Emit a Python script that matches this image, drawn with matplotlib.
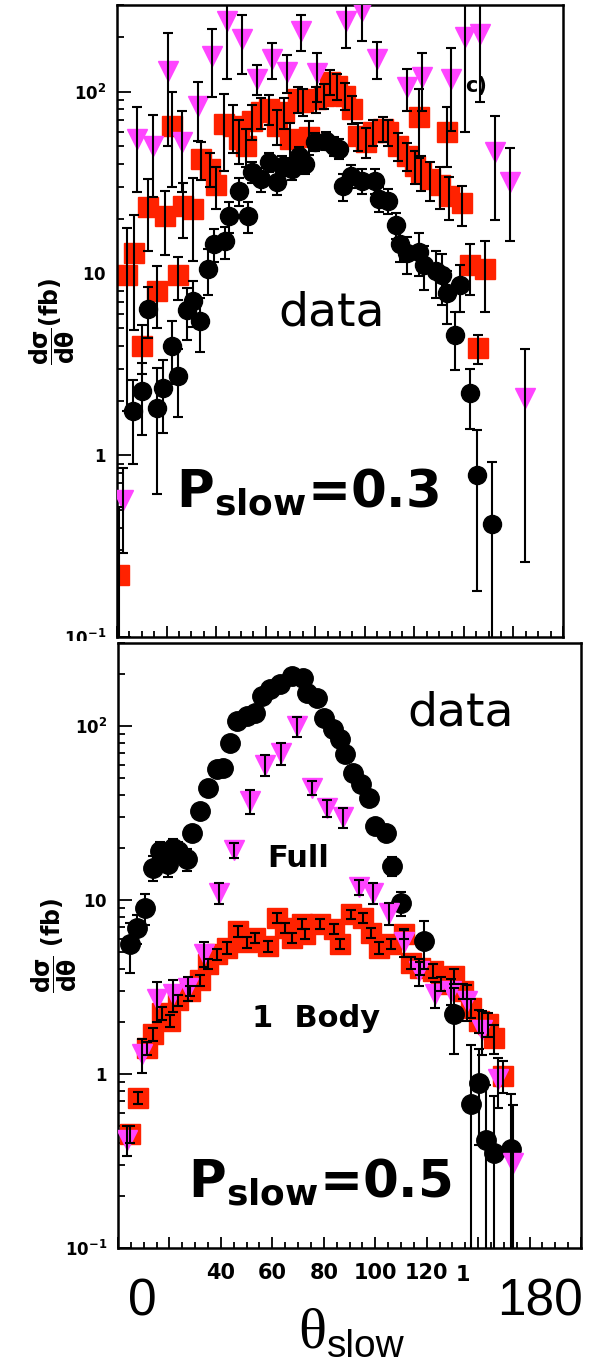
import matplotlib
matplotlib.use("Agg")
import matplotlib.pyplot as plt
from matplotlib.patches import Rectangle
from matplotlib.ticker import MultipleLocator, FixedLocator, LogLocator, NullFormatter

# ---- upper panel: P_slow = 0.3 ----
top_data_theta = [6.5, 10.1, 12.5, 16.1, 18.6, 22.2, 24.6, 28.2, 30.7, 33.5, 36.7, 39.1, 43.6, 45.2,
                  49.2, 52.9, 54.5, 58.1, 61.3, 64.6, 66.6, 70.6, 73.4, 75.9, 79.9, 84.3, 87.6, 89.6,
                  91.2, 94.4, 98.9, 104.1, 105.7, 109.4, 112.6, 114.2, 117.0, 121.9, 123.9, 128.7,
                  131.2, 133.2, 136.4, 138.4, 142.5, 145.3, 151.3]
top_data_val = [1.75, 2.25, 6.4, 1.81, 2.33, 3.97, 2.72, 6.3, 7.1, 5.5, 10.6, 14.6, 15.0, 20.8,
                28.6, 20.6, 36.3, 33.2, 41.2, 32.0, 39.2, 37.7, 44.5, 40.2, 53.1, 53.8, 50.5, 48.6,
                30.1, 34.5, 32.4, 32.4, 25.8, 25.2, 18.4, 14.6, 12.9, 13.2, 11.1, 10.3,
                9.75, 7.8, 4.56, 8.6, 2.19, 0.78, 0.42]
top_data_err = [0.85, 0.95, 2.0, 1.2, 1.0, 1.5, 1.1, 2.0, 2.0, 1.8, 3.0, 3.0, 3.0, 4.0,
                5.0, 4.0, 5.0, 5.0, 5.0, 5.0, 5.0, 5.0, 5.0, 5.0, 6.0, 6.0, 6.0, 6.0,
                5.0, 5.0, 5.0, 5.0, 4.0, 4.0, 3.0, 3.0, 3.0, 3.5, 3.0, 3.0,
                3.0, 2.5, 1.6, 2.5, 0.8, 0.6, 0.5]

top_one_theta = [0.8, 4.0, 6.9, 10.1, 12.5, 16.1, 19.4, 22.2, 24.6, 26.6, 30.7, 33.9, 37.5, 40.0,
                 43.2, 46.8, 49.2, 52.1, 54.5, 58.1, 61.3, 64.6, 67.4, 69.8, 73.0, 75.1, 77.5, 80.3,
                 83.5, 86.0, 88.8, 92.0, 94.8, 97.3, 100.5, 103.3, 107.3, 109.4, 113.4, 117.0,
                 120.3, 121.9, 122.7, 126.3, 130.3, 133.2, 134.0, 139.2, 142.5, 145.7, 148.5]
top_one_val = [0.22, 9.75, 12.9, 4.0, 23.3, 8.0, 20.6, 65.0, 9.75, 23.6, 22.7, 42.8, 37.8, 30.5,
               66.7, 65.0, 55.2, 50.5, 69.3, 77.6, 80.7, 65.0, 77.6, 55.2, 91.5, 88.1, 56.6, 91.5,
               95.1, 113.5, 107.9, 95.1, 80.7, 57.3, 53.1, 60.3, 62.6, 60.3, 50.5, 44.5,
               39.2, 73.0, 36.3, 33.2, 30.5, 60.3, 26.8, 24.3, 11.1, 3.87, 10.6]
top_one_err = [0.3, 8.0, 8.0, 1.2, 10.0, 3.0, 8.0, 35.0, 2.6, 8.0, 11.0, 10.0, 8.0, 8.0,
               30.0, 19.0, 15.0, 12.0, 15.0, 15.0, 15.0, 14.0, 15.0, 12.0, 15.0, 15.0, 12.0, 15.0,
               15.0, 18.0, 18.0, 16.0, 14.0, 10.0, 10.0, 10.0, 10.0, 10.0, 9.0, 8.0,
               8.0, 30.0, 8.0, 8.0, 8.0, 22.0, 7.0, 6.0, 3.5, 0.7, 4.5]

top_full_theta = [2.4, 8.1, 14.5, 20.6, 26.2, 32.7, 38.3, 44.4, 50.4, 56.5, 62.5, 68.6, 74.3,
                  80.7, 92.4, 98.9, 104.9, 117.0, 123.1, 134.8, 140.4, 146.5, 152.5, 158.6, 164.6]
top_full_val = [0.57, 55.2, 50.5, 130, 53.1, 83.8, 158, 245, 195, 118, 152, 129, 216,
                126, 245, 279, 152, 106, 121, 118, 200, 208, 46.8, 32.0, 2.06]
top_full_err = [0.28, 27, 24, 80, 25, 30, 64, 127, 70, 22, 34, 30, 48,
                38, 70, 90, 35, 28, 43, 57, 140, 120, 27, 17, 1.8]

# ---- lower panel: P_slow = 0.5 ----
bot_data_theta = [4.7, 7.4, 10.5, 13.6, 16.4, 19.5, 21.4, 23.4, 26.9, 28.8, 31.9, 35.1, 38.6, 40.9,
                  43.6, 46.4, 50.3, 53.4, 56.1, 59.2, 63.1, 67.8, 72.1, 73.6, 77.5, 79.9, 83.4,
                  86.5, 88.4, 91.5, 94.3, 97.4, 100.1, 104.0, 106.7, 109.9, 118.8, 130.5, 137.1,
                  140.2, 143.0, 146.1, 152.7]
bot_data_val = [5.6, 6.9, 9.0, 15.3, 19.1, 16.1, 19.9, 19.1, 17.2, 24.3, 32.4, 44.0, 56.6, 57.4,
                79.8, 107, 114, 119, 149, 163, 174, 194, 189, 155, 145, 111, 96,
                84, 69, 53.7, 46.4, 38.5, 26.6, 24.3, 15.7, 9.6, 5.8, 2.21, 0.67,
                0.89, 0.42, 0.35, 0.37]
bot_data_err = [1.8, 1.3, 1.8, 2.5, 2.5, 2.5, 2.5, 2.5, 2.5, 2.0, 2.0, 2.0, 2.5, 2.5,
                3.0, 3.0, 3.0, 3.0, 4.0, 4.0, 4.0, 4.0, 4.0, 4.0, 4.0, 3.0, 3.0,
                3.0, 3.0, 2.5, 2.5, 2.0, 2.0, 2.0, 2.0, 1.5, 1.8, 0.9, 0.8,
                0.5, 0.45, 0.4, 0.4]

bot_one_theta = [4.7, 7.8, 11.3, 13.6, 17.1, 20.3, 23.4, 28.0, 31.9, 35.1, 38.6, 42.5, 46.7, 50.3,
                 53.4, 58.4, 61.9, 65.1, 67.8, 71.7, 72.8, 78.7, 83.8, 86.5, 90.4, 95.1, 98.2,
                 101.3, 106.0, 111.0, 113.8, 117.6, 122.3, 125.4, 130.5, 134.0, 137.1, 140.2,
                 143.7, 146.1, 149.6]
bot_one_val = [0.45, 0.73, 1.41, 1.70, 2.24, 2.02, 2.66, 3.0, 3.47, 4.29, 4.9, 5.3, 6.6, 5.7,
               6.05, 5.45, 7.9, 6.9, 6.05, 7.3, 6.4, 7.3, 6.8, 5.6, 8.3, 7.9, 6.5,
               5.3, 5.6, 6.4, 4.35, 4.07, 3.91, 3.29, 3.66, 3.0, 2.39, 2.02,
               1.94, 1.61, 0.98]
bot_one_err = [0.05, 0.06, 0.12, 0.15, 0.2, 0.15, 0.2, 0.2, 0.25, 0.3, 0.35, 0.4, 0.45, 0.4,
               0.4, 0.4, 0.5, 0.45, 0.4, 0.45, 0.4, 0.45, 0.45, 0.4, 0.5, 0.5, 0.45,
               0.4, 0.4, 0.45, 0.35, 0.35, 0.35, 0.3, 0.35, 0.3, 0.3, 0.3,
               0.3, 0.3, 0.2]

bot_full_theta = [3.5, 9.3, 15.2, 21.4, 27.3, 33.5, 39.3, 45.2, 51.4, 57.3, 63.5, 69.7, 75.6,
                  81.4, 87.3, 93.5, 99.3, 105.2, 111.0, 116.9, 123.1, 129.3, 135.6, 141.4,
                  147.6, 153.5]
bot_full_val = [0.42, 1.30, 2.70, 2.88, 3.12, 4.9, 11.0, 19.4, 37.1, 59.7, 70.0, 100, 44.1,
                33.8, 30.0, 11.9, 11.0, 8.4, 5.7, 3.91, 2.88, 3.0, 2.63, 1.79,
                0.94, 0.31]
bot_full_err = [0.08, 0.28, 0.7, 0.6, 0.5, 0.8, 1.5, 2.0, 6.0, 8.0, 10.0, 13.0, 4.0,
                4.0, 4.0, 1.2, 1.5, 1.2, 1.0, 0.7, 0.5, 0.5, 0.6, 0.5,
                0.3, 0.35]

W, H = 594, 1368
RED = "#ff2200"
MAG = "#ff44ff"
SANS = ["Liberation Sans", "DejaVu Sans"]


def fx(px):
    return px / W


def fy(py):
    return 1 - py / H


fig = plt.figure(figsize=(W / 100, H / 100), dpi=100)
fig.patch.set_facecolor("white")


def make_panel(rect, series):
    ax = fig.add_axes(rect)
    ax.set_yscale("log")
    for theta, val, err, color, marker, ms, z in series:
        ax.plot(theta, val, ls="none", marker=marker, ms=ms, color=color, mec=color, zorder=z)
        ax.errorbar(theta, val, yerr=err, fmt="none", ecolor="black", elinewidth=1.5,
                    capsize=3.5, capthick=1.5, zorder=6)
    ax.set_xlim(0, 180)
    ax.set_ylim(0.1, 300)
    ax.xaxis.set_major_locator(MultipleLocator(20))
    ax.xaxis.set_minor_locator(MultipleLocator(5))
    ax.yaxis.set_major_locator(FixedLocator([0.1, 1, 10, 100]))
    ax.yaxis.set_minor_locator(LogLocator(base=10, subs=range(2, 10)))
    ax.yaxis.set_minor_formatter(NullFormatter())
    ax.tick_params(which="both", direction="in", top=False, right=False, width=1.3)
    ax.tick_params(axis="x", which="major", length=8)
    ax.tick_params(axis="x", which="minor", length=4)
    ax.tick_params(axis="y", which="major", length=10, pad=8)
    ax.tick_params(axis="y", which="minor", length=5)
    ax.set_yticklabels([r"$\mathbf{10^{-1}}$", r"$\mathbf{1}$", r"$\mathbf{10}$",
                        r"$\mathbf{10^{2}}$"], fontsize=12)
    for s in ax.spines.values():
        s.set_linewidth(1.8)
    return ax


ax1 = make_panel([fx(117), fy(637), (563 - 117) / W, (637 - 5) / H], [
    (top_one_theta, top_one_val, top_one_err, RED, "s", 14, 2),
    (top_data_theta, top_data_val, top_data_err, "black", "o", 13, 3),
    (top_full_theta, top_full_val, top_full_err, MAG, "v", 14, 4),
])
ax1.xaxis.set_major_formatter(NullFormatter())

# white sheet of the lower plot laid over the upper one
fig.patches.append(Rectangle((0, 0), 1, fy(641), transform=fig.transFigure,
                             facecolor="white", edgecolor="none", zorder=0.5))

ax2 = make_panel([fx(118), fy(1248), (581 - 118) / W, (1248 - 643) / H], [
    (bot_one_theta, bot_one_val, bot_one_err, RED, "s", 15, 2),
    (bot_data_theta, bot_data_val, bot_data_err, "black", "o", 14, 3),
    (bot_full_theta, bot_full_val, bot_full_err, MAG, "v", 14, 4),
])
ax2.set_zorder(1)
ax2.set_xticks(range(0, 181, 20))
ax2.set_xticklabels(["", "", "40", "60", "80", "100", "120", "", "", ""],
                    fontsize=15, fontweight="bold")
ax2.tick_params(axis="x", which="major", pad=11)
fig.text(fx(456), fy(1281), "1", fontsize=15, fontweight="bold", ha="left", va="baseline")

# labels on the upper panel
fig.text(fx(332), fy(325), "data", fontsize=34, ha="center", va="baseline")
fig.text(fx(465), fy(92), "c)", fontsize=15, fontweight="bold", ha="left", va="baseline")
fig.text(fx(176), fy(507), r"P$_{\mathbf{slow}}$=0.3", fontsize=37, fontweight="bold",
         ha="left", va="baseline")
fig.text(fx(52), fy(322), r"$\dfrac{\mathbf{d\sigma}}{\mathbf{d\theta}}$(fb)", fontsize=17,
         fontweight="bold", rotation=90, ha="center", va="center")

# labels on the lower panel
fig.text(fx(461), fy(725), "data", fontsize=34, ha="center", va="baseline")
fig.text(fx(267), fy(867), "Full", fontsize=22, fontweight="bold", ha="left", va="baseline")
fig.text(fx(252), fy(1027), "1  Body", fontsize=22, fontweight="bold", ha="left", va="baseline")
fig.text(fx(188), fy(1197), r"P$_{\mathbf{slow}}$=0.5", fontsize=37, fontweight="bold",
         ha="left", va="baseline")
fig.text(fx(54), fy(945), r"$\dfrac{\mathbf{d\sigma}}{\mathbf{d\theta}}$ (fb)", fontsize=17,
         fontweight="bold", rotation=90, ha="center", va="center")

# big axis annotations below
fig.text(fx(142), fy(1316), "0", fontsize=37, family=SANS, ha="center", va="baseline")
fig.text(fx(540), fy(1316), "180", fontsize=37, family=SANS, ha="center", va="baseline")
fig.text(fx(326), fy(1348), "\u03b8", fontsize=42, family=["Liberation Serif", "DejaVu Serif"],
         ha="right", va="baseline")
fig.text(fx(327), fy(1357), "slow", fontsize=28, family=SANS, ha="left", va="baseline")

fig.savefig("out.png", dpi=100, facecolor="white")
